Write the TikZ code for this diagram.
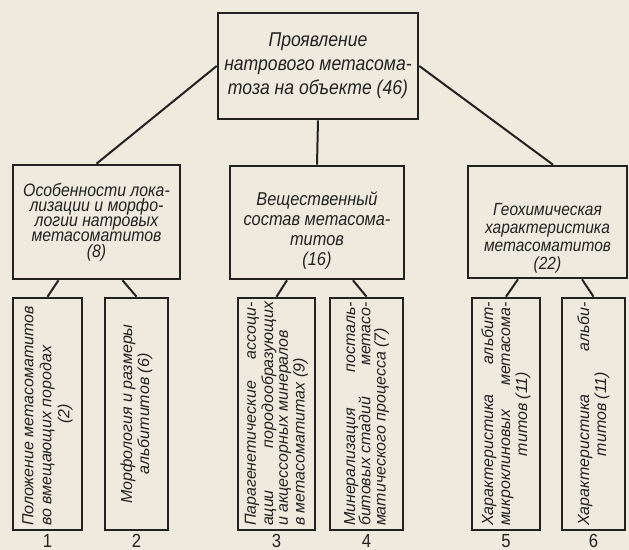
\documentclass[tikz,border=0pt]{standalone}
\usepackage{fontspec}
\setmainfont{Liberation Sans}[FakeStretch=0.88]
\newfontfamily\lowfont{Liberation Sans}
\usepackage{graphicx}
\usetikzlibrary{positioning}

\definecolor{paper}{HTML}{EEEBDE}
\definecolor{ink}{HTML}{222220}

\begin{document}
\begin{tikzpicture}[x=0.5pt, y=-0.5pt,
    box/.style={draw=ink, line width=1.3pt, rectangle, inner sep=0pt, text=ink},
    link/.style={draw=ink, line width=1pt},
    num/.style={text=ink, inner sep=0pt, font=\fontsize{9.5}{9.5}\selectfont}]
    % Paper
    \fill[paper] (0,0) rectangle (629,550);
    \useasboundingbox (0,0) rectangle (629,550);

    % Top box
    \node[box, minimum width=100pt, minimum height=53pt] (top) at (318,66)
        {\parbox{98pt}{\centering\itshape\fontsize{10}{12}\selectfont Проявление\\натрового метасома-\\тоза на объекте (46)}};

    % Second level
    \node[box, minimum width=83.5pt, minimum height=57pt] (loc) at (96.5,222)
        {\parbox{81pt}{\centering\itshape\fontsize{9}{7.6}\selectfont Особенности лока-\\лизации и морфо-\\логии натровых\\метасоматитов\\(8)}};
    \node[box, minimum width=87pt, minimum height=56.5pt] (sub) at (317,222.5)
        {\parbox{84pt}{\vspace{8pt}\centering\itshape\fontsize{9.3}{10}\selectfont Вещественный\\состав метасома-\\титов\\(16)}};
    \node[box, minimum width=79.5pt, minimum height=56pt] (geo) at (547.5,222)
        {\parbox{77pt}{\vspace{16pt}\centering\itshape\fontsize{8.8}{9}\selectfont Геохимическая\\характеристика\\метасоматитов\\(22)}};

    % Third level
    \node[box, minimum width=34.5pt, minimum height=116pt] (b1) at (47.5,414)
        {\rotatebox{90}{\parbox{112pt}{\raggedright\lowfont\itshape\fontsize{8}{9}\selectfont Положение метасоматитов\\во вмещающих породах\par{\centering(2)\par}}}};
    \node[box, minimum width=31.5pt, minimum height=116pt] (b2) at (136.5,414)
        {\rotatebox{90}{\parbox{112pt}{\centering\lowfont\itshape\fontsize{8}{8.5}\selectfont Морфология и размеры\\альбититов (6)}}};
    \node[box, minimum width=38.5pt, minimum height=116pt] (b3) at (276.5,414)
        {\rotatebox{90}{\parbox{112pt}{\raggedright\lowfont\itshape\fontsize{8}{7.4}\selectfont Парагенетические\hfill ассоци-\\ации\hfill породообразующих\\и акцессорных минералов\\в метасоматитах (9)}}};
    \node[box, minimum width=36.5pt, minimum height=116pt] (b4) at (366.5,414)
        {\rotatebox{90}{\parbox{112pt}{\raggedright\lowfont\itshape\fontsize{8}{7.6}\selectfont Минерализация\hfill посталь-\\битовых стадий\hfill метасо-\\матического процесса (7)}}};
    \node[box, minimum width=34pt, minimum height=116pt] (b5) at (506,414)
        {\rotatebox{90}{\parbox{112pt}{\raggedright\lowfont\itshape\fontsize{8}{8.5}\selectfont Характеристика\hfill альбит-\\микроклиновых\hfill метасома-\par{\centering титов (11)\par}}}};
    \node[box, minimum width=31.5pt, minimum height=116pt] (b6) at (593.5,414)
        {\rotatebox{90}{\parbox{112pt}{\raggedright\lowfont\itshape\fontsize{8}{8.5}\selectfont Характеристика\hfill альби-\par{\centering титов (11)\par}}}};

    % Numbers
    \node[num, below=1.5pt of b1] (n1) {1};
    \node[num, below=1.5pt of b2] (n2) {2};
    \node[num, below=1.5pt of b3] (n3) {3};
    \node[num, below=1.5pt of b4] (n4) {4};
    \node[num, below=1.5pt of b5] (n5) {5};
    \node[num, below=1.5pt of b6] (n6) {6};

    % Links
    \draw[link] (top.west) -- (loc.north);
    \draw[link] (top.south) -- (sub.north);
    \draw[link] (top.east) -- ([xshift=2.75pt]geo.north);

    \draw[link] ([xshift=-19pt]loc.south) -- (b1.north);
    \draw[link] ([xshift=13pt]loc.south) -- (b2.north);
    \draw[link] ([xshift=-15pt]sub.south) -- (b3.north);
    \draw[link] ([xshift=18pt]sub.south) -- (b4.north);
    \draw[link] ([xshift=-14.75pt]geo.south) -- (b5.north);
    \draw[link] ([xshift=17.25pt]geo.south) -- (b6.north);
\end{tikzpicture}
\end{document}
